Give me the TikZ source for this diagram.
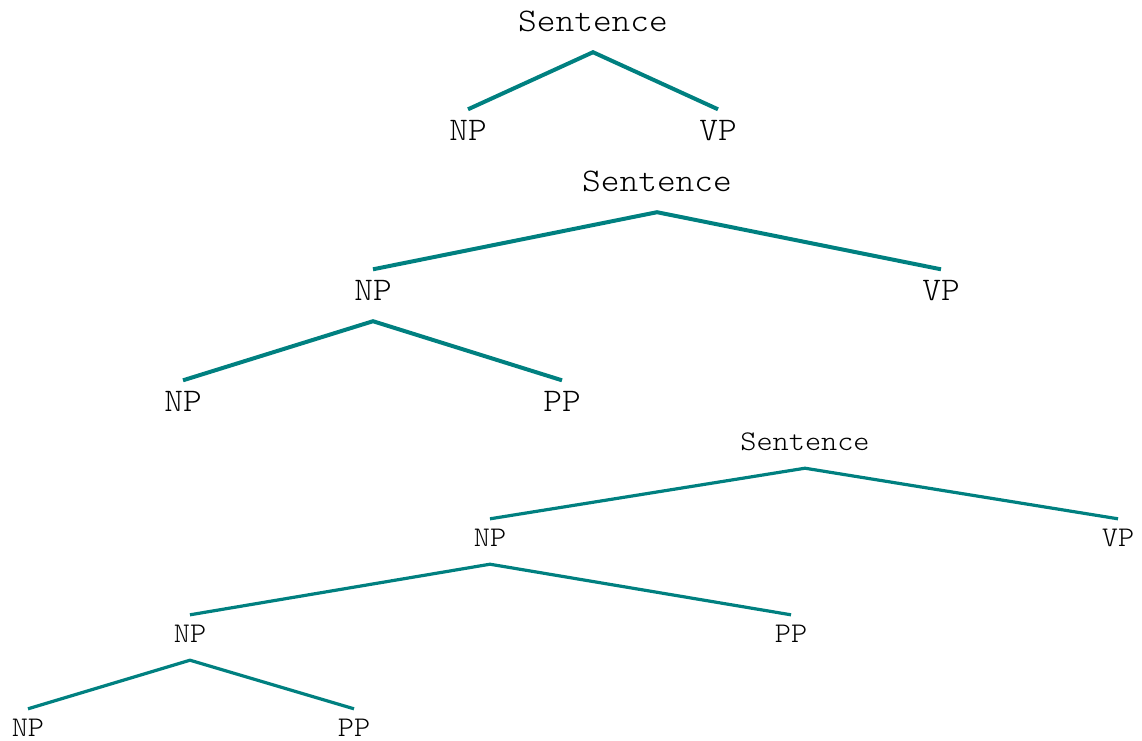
\documentclass[tikz,border=0pt]{standalone}
\usepackage{fontspec}
\setmonofont{Latin Modern Mono Light}[FakeStretch=1.08]

\definecolor{branch}{RGB}{0,128,128}

\tikzset{
  cat/.style={font=\ttfamily\fontsize{33}{33}\selectfont, anchor=base,
    inner xsep=0pt, inner ysep=10.5pt, text height=20pt, text depth=10.5pt},
  catsmall/.style={font=\ttfamily\fontsize{28.5}{28.5}\selectfont, anchor=base,
    inner xsep=0pt, inner ysep=10pt, text height=17pt, text depth=8pt},
  branchline/.style={branch, line width=4pt},
  branchthin/.style={branch, line width=3.2pt}
}

\begin{document}
\begin{tikzpicture}[x=1pt,y=-1pt]
  \useasboundingbox (0,0) rectangle (1142,740);

  % first tree
  \node[cat] (s1) at (593,31) {Sentence};
  \node[cat] (np1) at (468,140) {NP};
  \node[cat] (vp1) at (718,140) {VP};
  \draw[branchline] (np1.north) -- (s1.south) -- (vp1.north);

  % second tree, NP split again
  \node[cat] (s2) at (657,191) {Sentence};
  \node[cat] (np2) at (373,300) {NP};
  \node[cat] (vp2) at (941,300) {VP};
  \node[cat] (np2a) at (183,411) {NP};
  \node[cat] (pp2a) at (562,411) {PP};
  \draw[branchline] (np2.north) -- (s2.south) -- (vp2.north);
  \draw[branchline] (np2a.north) -- (np2.south) -- (pp2a.north);

  % third tree, smaller type
  \node[catsmall] (s3) at (805,450) {Sentence};
  \node[catsmall] (np3) at (490,546) {NP};
  \node[catsmall] (vp3) at (1118,546) {VP};
  \node[catsmall] (np3a) at (190,642) {NP};
  \node[catsmall] (pp3a) at (791,642) {PP};
  \node[catsmall] (np3b) at (28,736) {NP};
  \node[catsmall] (pp3b) at (354,736) {PP};
  \draw[branchthin] (np3.north) -- (s3.south) -- (vp3.north);
  \draw[branchthin] (np3a.north) -- (np3.south) -- (pp3a.north);
  \draw[branchthin] (np3b.north) -- (np3a.south) -- (pp3b.north);
\end{tikzpicture}
\end{document}
